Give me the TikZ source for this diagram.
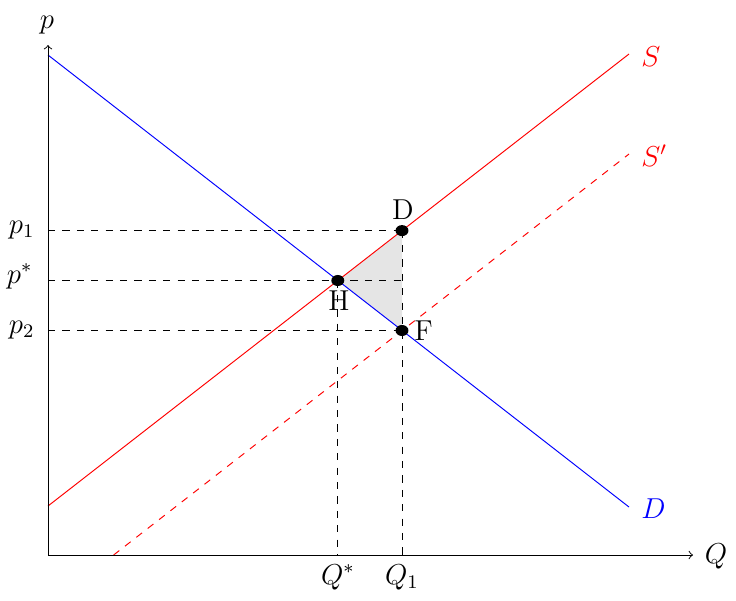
\documentclass[tikz,border=0pt]{standalone}
\usetikzlibrary{shapes.geometric}
\begin{document}
\begin{tikzpicture}[x=0.4167pt,y=-0.4167pt,
  lbl/.style={font=\fontsize{12}{14}\selectfont, inner sep=0pt},
  dotnode/.style={ellipse, fill=black, inner sep=0pt, minimum width=5.4pt, minimum height=4.6pt},
  guide/.style={dashed, black},
  axisline/.style={->, black}]
\useasboundingbox (0,0) rectangle (736,600);
% key coordinates
\coordinate (O) at (48,555);
\coordinate (ytop) at (48,45);
\coordinate (xend) at (693,555);
\coordinate (h) at (337.8,280.5);
\coordinate (d) at (402,230.6);
\coordinate (f) at (402,330.5);
\coordinate (yp1) at (48,230.6);
\coordinate (yps) at (48,280.5);
\coordinate (yp2) at (48,330.5);
\coordinate (xqs) at (337.8,555);
\coordinate (xq1) at (402,555);
\coordinate (dA) at (48,55);
\coordinate (dB) at (629,507);
\coordinate (sA) at (48,506);
\coordinate (sB) at (629,54);
\coordinate (spA) at (113.6,555);
\coordinate (spB) at (629,154);
% shaded triangle
\fill[black!10] (h) -- (d) -- (f) -- cycle;
% guides
\draw[guide] (yp1) -- (d);
\draw[guide] (yps) -- (d |- h);
\draw[guide] (yp2) -- (f);
\draw[guide] (d) -- (xq1);
\draw[guide] (h) -- (xqs);
% curves
\draw[blue] (dA) -- (dB);
\draw[red] (sA) -- (sB);
\draw[red, dashed] (spA) -- (spB);
% axes
\draw[axisline] (O) -- (ytop);
\draw[axisline] (O) -- (xend);
% dots
\node[dotnode] (H) at (h) {};
\node[dotnode] (D) at (d) {};
\node[dotnode] (F) at (f) {};
% labels
\node[lbl, anchor=base] (lp) at (47,28) {$p$};
\node[lbl, anchor=base] (lQ) at (716,563) {$Q$};
\node[lbl, anchor=base] (lQs) at (338,584) {$Q^{*}$};
\node[lbl, anchor=base] (lQ1) at (402,584) {$Q_1$};
\node[lbl, anchor=base east] (lp1) at (35,233) {$p_1$};
\node[lbl, anchor=base east] (lps) at (33,283) {$p^{*}$};
\node[lbl, anchor=base east] (lp2) at (35,333) {$p_2$};
\node[lbl, anchor=base] (lD) at (403,219) {D};
\node[lbl, anchor=base] (lH) at (339,310) {H};
\node[lbl, anchor=base west] (lF) at (414,340) {F};
\node[lbl, anchor=base west, red] (lS) at (641,66) {$S$};
\node[lbl, anchor=base west, red] (lSp) at (641,166) {$S'$};
\node[lbl, anchor=base west, blue] (lDc) at (641,518) {$D$};
\end{tikzpicture}
\end{document}
